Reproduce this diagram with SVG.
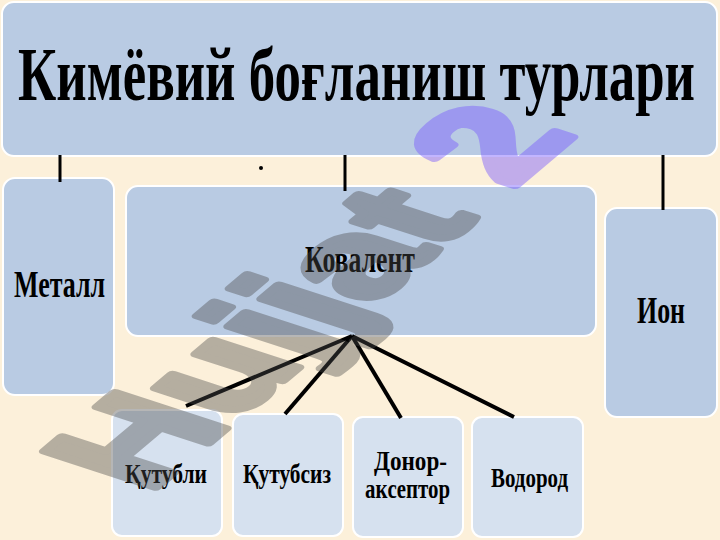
<svg xmlns="http://www.w3.org/2000/svg" width="720" height="540" viewBox="0 0 720 540">
<defs>
<style>
.box{fill:#b9cbe3;stroke:#ffffff;stroke-width:2}
.sub{fill:#d6e1ef;stroke:#ffffff;stroke-width:2}
.t{font-family:"Liberation Serif","Times New Roman",serif;font-weight:bold;fill:#000000}
.c{stroke:#000000;stroke-linecap:butt;fill:none}
.wm{font-family:"Liberation Sans",Arial,sans-serif;font-weight:bold;font-size:100px;stroke-width:6;stroke-linejoin:round}
</style>
</defs>
<rect x="0" y="0" width="720" height="540" fill="#fcf0da"/>
<g id="title">
<rect class="box" x="2" y="2" width="715" height="154" rx="12"/>
<text class="t" x="18" y="100" font-size="76" textLength="677" lengthAdjust="spacingAndGlyphs">Кимёвий боғланиш турлари</text>
</g>
<g id="metall">
<rect class="box" x="3" y="178" width="111" height="217" rx="12"/>
<text class="t" x="14" y="297" font-size="38" textLength="91" lengthAdjust="spacingAndGlyphs">Металл</text>
</g>
<g id="kovalent">
<rect class="box" x="126" y="186" width="470" height="150" rx="12"/>
<text class="t" x="305" y="272" font-size="38" textLength="110" lengthAdjust="spacingAndGlyphs">Ковалент</text>
</g>
<g id="ion">
<rect class="box" x="605" y="208" width="112" height="209" rx="12"/>
<text class="t" x="637" y="323" font-size="38" textLength="48" lengthAdjust="spacingAndGlyphs">Ион</text>
</g>
<g id="qutubli">
<rect class="sub" x="112" y="410" width="110" height="126" rx="10"/>
<text class="t" x="125" y="483" font-size="28" textLength="82" lengthAdjust="spacingAndGlyphs">Қутубли</text>
</g>
<g id="qutubsiz">
<rect class="sub" x="233" y="414" width="110" height="122" rx="10"/>
<text class="t" x="243" y="483" font-size="28" textLength="88" lengthAdjust="spacingAndGlyphs">Қутубсиз</text>
</g>
<g id="donor">
<rect class="sub" x="353" y="417" width="110" height="120" rx="10"/>
<text class="t" x="374" y="470" font-size="27" textLength="73" lengthAdjust="spacingAndGlyphs">Донор-</text>
<text class="t" x="365" y="498" font-size="27" textLength="85" lengthAdjust="spacingAndGlyphs">акcептор</text>
</g>
<g id="vodorod">
<rect class="sub" x="472" y="417" width="111" height="120" rx="10"/>
<text class="t" x="491" y="487" font-size="27" textLength="77" lengthAdjust="spacingAndGlyphs">Водород</text>
</g>
<g id="connectors">
<line class="c" x1="60" y1="155" x2="60" y2="182" stroke-width="3"/>
<line class="c" x1="345" y1="155" x2="345" y2="191" stroke-width="3"/>
<line class="c" x1="663" y1="155" x2="663" y2="210" stroke-width="3"/>
<line class="c" x1="352" y1="336" x2="186" y2="406" stroke-width="4"/>
<line class="c" x1="352" y1="336" x2="285" y2="414" stroke-width="4"/>
<line class="c" x1="352" y1="336" x2="401" y2="418" stroke-width="4"/>
<line class="c" x1="352" y1="336" x2="514" y2="417" stroke-width="4"/>
<circle cx="261" cy="168" r="2" fill="#000000"/>
</g>
<g id="watermark" transform="matrix(1.187,-0.997,1.615,0.527,148,494)">
<text class="wm" x="0" y="0" fill="#4c4c4c" stroke="#4c4c4c" opacity="0.4">Hujjat</text>
<text class="wm" x="306" y="0" fill="#7a5cff" stroke="#7a5cff" opacity="0.45">2</text>
</g>
</svg>
